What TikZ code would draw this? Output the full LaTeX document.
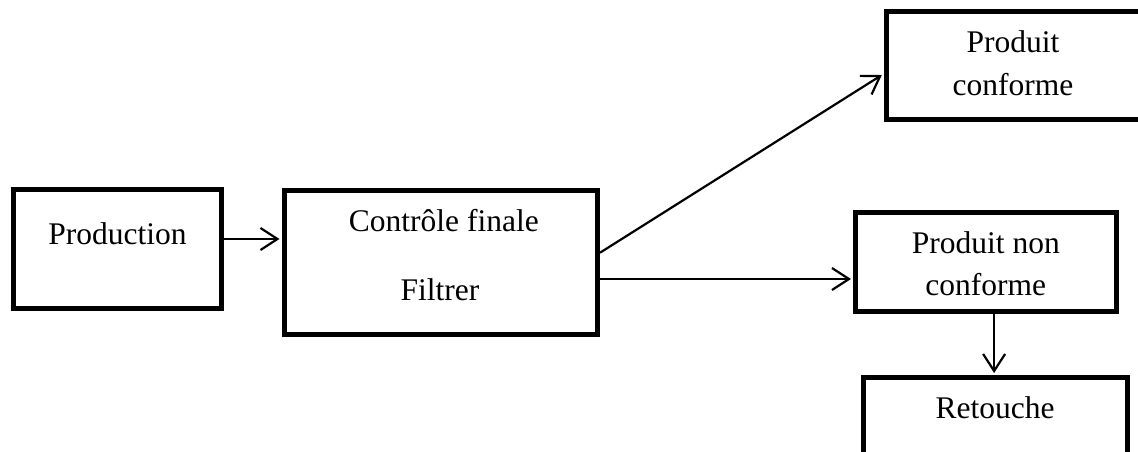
\documentclass[tikz,border=0pt]{standalone}
\usepackage{fontspec}
\setmainfont{Liberation Serif}
\usetikzlibrary{arrows.meta}
\tikzset{
  box/.style={draw, line width=5pt, rectangle, inner sep=0pt},
  txt/.style={anchor=base, inner sep=0pt, font=\fontsize{31.5}{36}\selectfont},
  arr/.style={line width=2.2pt, -{Straight Barb[length=17pt,width=22pt,line width=2.2pt]}, shorten >=2pt}
}
\begin{document}
\begin{tikzpicture}[x=1pt,y=-1pt]
\useasboundingbox (0,0) rectangle (1138,451);
\node[box, minimum width=208pt, minimum height=119pt] (prod) at (117.5,248.5) {};
\node[box, minimum width=313.5pt, minimum height=144pt] (ctrl) at (440.75,262) {};
\node[box, minimum width=259pt, minimum height=108.7pt] (conf) at (1015.5,65.35) {};
\node[box, minimum width=261.2pt, minimum height=99pt] (nc) at (986.1,261.5) {};
\node[box, minimum width=264.2pt, minimum height=82.5pt] (ret) at (995.4,418.75) {};

\node[txt] (tprod) at (117.5,244) {Production};
\node[txt] (tctrl1) at (443.8,231) {Contrôle finale};
\node[txt] (tctrl2) at (440,300) {Filtrer};
\node[txt] (tconf1) at (1013,52.7) {Produit};
\node[txt] (tconf2) at (1013,95) {conforme};
\node[txt] (tnc1) at (985.8,253.3) {Produit non};
\node[txt] (tnc2) at (985.8,295.5) {conforme};
\node[txt] (tret) at (995,418.3) {Retouche};

\draw[arr] ([yshift=9.5pt]prod.east) -- ([yshift=9.5pt]prod.east -| ctrl.west);
\draw[arr] ([yshift=9.3pt]ctrl.east) -- ([yshift=-8.6pt]conf.west);
\draw[arr] ([yshift=-17pt]ctrl.east) -- ([yshift=-17pt]ctrl.east -| nc.west);
\draw[arr] ([xshift=8pt]nc.south) -- ([xshift=8pt]nc.south |- ret.north);
\end{tikzpicture}
\end{document}
